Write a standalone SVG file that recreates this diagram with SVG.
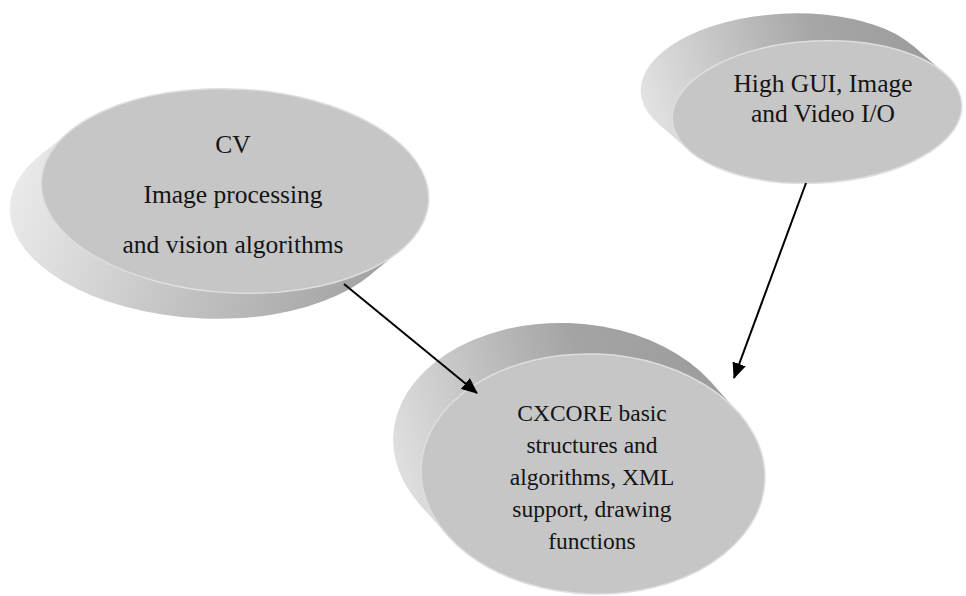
<svg xmlns="http://www.w3.org/2000/svg" width="966" height="596" viewBox="0 0 966 596">
  <style>
    .front { fill: #c6c6c6; stroke: #dedede; stroke-width: 1.5; }
    .label { font-family: "Liberation Serif", "Times New Roman", serif; fill: #141414; text-anchor: middle; }
    .edge { stroke: #000; stroke-width: 2; fill: none; }
  </style>
  <defs>
    <linearGradient id="gCV" gradientUnits="userSpaceOnUse" x1="-230" y1="0" x2="150" y2="110">
      <stop offset="0" stop-color="#ececec"/>
      <stop offset="0.5" stop-color="#c4c4c4"/>
      <stop offset="1" stop-color="#a0a0a0"/>
    </linearGradient>
    <linearGradient id="gGUI" gradientUnits="userSpaceOnUse" x1="-175" y1="20" x2="140" y2="-60">
      <stop offset="0" stop-color="#e6e6e6"/>
      <stop offset="0.6" stop-color="#a6a6a6"/>
      <stop offset="1" stop-color="#9a9a9a"/>
    </linearGradient>
    <linearGradient id="gCX" gradientUnits="userSpaceOnUse" x1="-200" y1="40" x2="150" y2="-80">
      <stop offset="0" stop-color="#e4e4e4"/>
      <stop offset="0.6" stop-color="#a4a4a4"/>
      <stop offset="1" stop-color="#9c9c9c"/>
    </linearGradient>
    <marker id="arrow" markerUnits="userSpaceOnUse" markerWidth="16" markerHeight="14" refX="15" refY="7" orient="auto">
      <path d="M0,0 L16,7 L0,14 Z" fill="#000"/>
    </marker>
  </defs>

  <g id="node-cv" transform="translate(235,191) rotate(3)">
    <ellipse cx="-30" cy="27" rx="194" ry="102" fill="url(#gCV)"/>
    <polygon points="167.5,51.5 137.5,78.5 -197.5,-24.5 -167.5,-51.5" fill="url(#gCV)"/>
    <ellipse class="front" cx="0" cy="0" rx="194" ry="102"/>
  </g>
  <g id="node-cv-text">
    <text class="label" x="233" y="153" font-size="25.5">CV</text>
    <text class="label" x="233" y="203" font-size="25.5">Image processing</text>
    <text class="label" x="233" y="253" font-size="25.5">and vision algorithms</text>
  </g>

  <g id="node-gui" transform="translate(817,112) rotate(-3)">
    <ellipse cx="-30" cy="-29" rx="145" ry="71" fill="url(#gGUI)"/>
    <polygon points="129.4,-32.1 99.4,-61.1 -159.4,3.1 -129.4,32.1" fill="url(#gGUI)"/>
    <ellipse class="front" cx="0" cy="0" rx="145" ry="71"/>
  </g>
  <g id="node-gui-text">
    <text class="label" x="823" y="92" font-size="25.5">High GUI, Image</text>
    <text class="label" x="823" y="122" font-size="25.5">and Video I/O</text>
  </g>

  <g id="node-cxcore" transform="translate(593,474) rotate(2)">
    <ellipse cx="-29" cy="-30" rx="172" ry="120" fill="url(#gCX)"/>
    <polygon points="142.6,-67.1 113.6,-97.1 -171.6,37.1 -142.6,67.1" fill="url(#gCX)"/>
    <ellipse class="front" cx="0" cy="0" rx="172" ry="120"/>
  </g>
  <g id="node-cxcore-text">
    <text class="label" x="592" y="421" font-size="23.5">CXCORE basic</text>
    <text class="label" x="592" y="453" font-size="23.5">structures and</text>
    <text class="label" x="592" y="485" font-size="23.5">algorithms, XML</text>
    <text class="label" x="592" y="517" font-size="23.5">support, drawing</text>
    <text class="label" x="592" y="549" font-size="23.5">functions</text>
  </g>

  <g id="connectors">
    <line class="edge" x1="344" y1="284" x2="477" y2="393" marker-end="url(#arrow)"/>
    <line class="edge" x1="806" y1="183" x2="734" y2="378" marker-end="url(#arrow)"/>
  </g>
</svg>
